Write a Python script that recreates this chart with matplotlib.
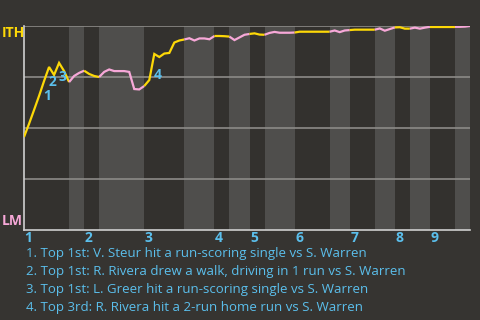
import matplotlib
matplotlib.use("Agg")
import matplotlib.pyplot as plt
import numpy as np

# ---- data ----
# win probability for ITH after each plate appearance (index 0 = game start)
wp = [0.456, 0.520, 0.588, 0.657, 0.730, 0.799, 0.760, 0.819, 0.779, 0.725,
      0.755, 0.770, 0.781, 0.765, 0.755, 0.750, 0.775, 0.787, 0.779, 0.779,
      0.779, 0.775, 0.691, 0.689, 0.706, 0.735, 0.863, 0.848, 0.865, 0.868,
      0.919, 0.929, 0.934, 0.940, 0.929, 0.939, 0.939, 0.935, 0.951, 0.951,
      0.950, 0.948, 0.931, 0.944, 0.957, 0.961, 0.964, 0.958, 0.957, 0.966,
      0.971, 0.967, 0.967, 0.967, 0.968, 0.972, 0.972, 0.972, 0.972, 0.972,
      0.972, 0.972, 0.978, 0.970, 0.978, 0.980, 0.982, 0.982, 0.982, 0.982,
      0.982, 0.988, 0.977, 0.985, 0.993, 0.994, 0.987, 0.987, 0.992, 0.987,
      0.992, 0.996, 0.996, 0.996, 0.996, 0.996, 0.996, 0.996, 0.997, 1.000]
# plate appearances in each half inning (top 1, bottom 1, top 2, ...)
half_lengths = [9, 3, 3, 9, 8, 6, 3, 4, 3, 6, 7, 4, 5, 4, 3, 4, 5, 3]
inning_labels = ["1", "2", "3", "4", "5", "6", "7", "8", "9"]
event_pa = [4, 5, 7, 26]
event_labels = ["1", "2", "3", "4"]
captions = [
    "1. Top 1st: V. Steur hit a run-scoring single vs S. Warren",
    "2. Top 1st: R. Rivera drew a walk, driving in 1 run vs S. Warren",
    "3. Top 1st: L. Greer hit a run-scoring single vs S. Warren",
    "4. Top 3rd: R. Rivera hit a 2-run home run vs S. Warren",
]
team_top = "ITH"
team_bottom = "LM"

# ---- style ----
BG = "#363431"
DARK_BAND = "#33312e"
LIGHT_BAND = "#4f4e4c"
YELLOW = "#fdd807"
PINK = "#f7a8d8"
BLUE = "#5bbfec"
GRID = "#8c8b88"
SPINE = "#cfcfcf"
FONT = ["Open Sans", "DejaVu Sans"]

fig = plt.figure(figsize=(4.8, 3.2), dpi=100, facecolor=BG)
ax = fig.add_axes([24 / 480, 90 / 320, 446 / 480, 204 / 320])
ax.set_facecolor(DARK_BAND)

n = len(wp) - 1
x = np.arange(len(wp))
bounds = np.concatenate([[0], np.cumsum(half_lengths)])

# bands for bottom halves
for h in range(len(half_lengths)):
    if h % 2 == 1:
        ax.axvspan(bounds[h], bounds[h + 1], color=LIGHT_BAND, lw=0, zorder=0)

for g in [0.25, 0.5, 0.75, 1.0]:
    ax.axhline(g, color=GRID, lw=1.2, zorder=1)

# line segments colored by half inning
for h in range(len(half_lengths)):
    s, e = bounds[h], bounds[h + 1]
    ax.plot(x[s:e + 1], wp[s:e + 1], color=YELLOW if h % 2 == 0 else PINK,
            lw=1.6, zorder=3, solid_capstyle="butt", solid_joinstyle="miter")

ax.set_xlim(0, n)
ax.set_ylim(0, 1)
ax.set_xticks([])
ax.set_yticks([])
for side in ["top", "right"]:
    ax.spines[side].set_visible(False)
for side in ["left", "bottom"]:
    ax.spines[side].set_color(SPINE)
    ax.spines[side].set_linewidth(1.2)

# event labels at segment midpoints
for pa, lab in zip(event_pa, event_labels):
    mx = pa - 0.5
    my = (wp[pa - 1] + wp[pa]) / 2
    ax.annotate(lab, (mx, my), xytext=(4.2, -5.5), textcoords="offset points",
                ha="center", va="center", color=BLUE, fontsize=10,
                fontweight="bold", family=FONT, zorder=4)

# inning labels
trans = matplotlib.transforms.blended_transform_factory(ax.transData, ax.transAxes)
for i, lab in enumerate(inning_labels):
    ax.text(bounds[2 * i] + 0.1, -0.04, lab, transform=trans, ha="left",
            va="center", color=BLUE, fontsize=10, fontweight="bold",
            family=FONT, clip_on=False)

fig.text(2 / 480, (320 - 33) / 320, team_top, color=YELLOW, fontsize=10,
         fontweight="bold", family=FONT, ha="left", va="center")
fig.text(2 / 480, (320 - 221) / 320, team_bottom, color=PINK, fontsize=10,
         fontweight="bold", family=FONT, ha="left", va="center")

for i, c in enumerate(captions):
    yc = 254 + i * 17.9
    fig.text(26 / 480, (320 - yc) / 320, c, color=BLUE, fontsize=9.5,
             family=FONT, ha="left", va="center")

fig.savefig("out.png", dpi=100, facecolor=BG)
